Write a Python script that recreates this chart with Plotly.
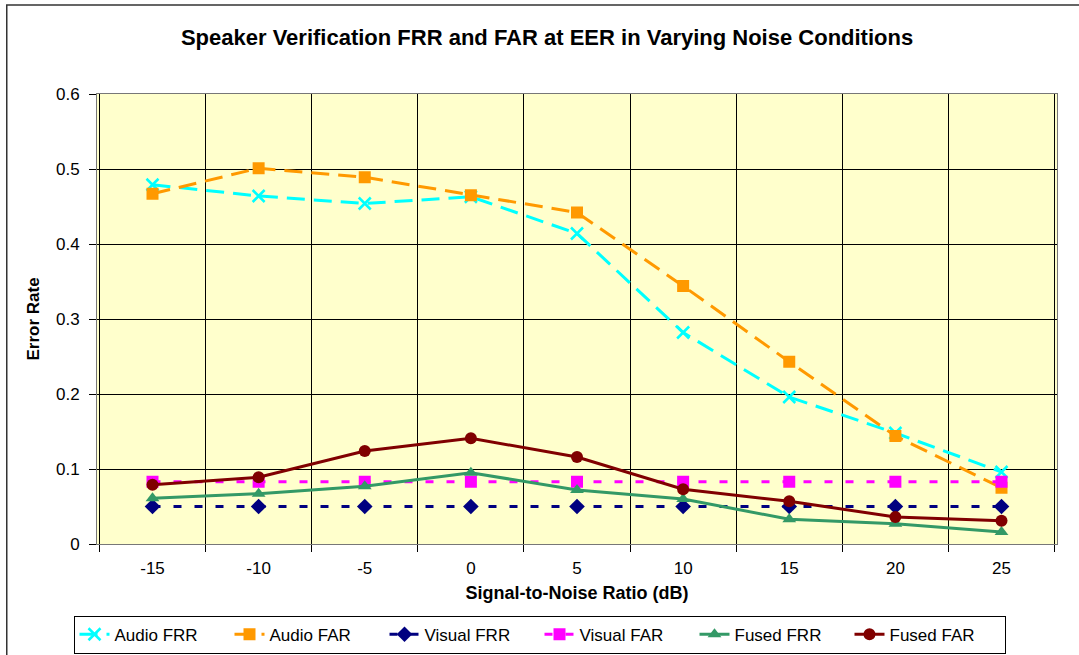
import plotly.graph_objects as go

snr = ["-15", "-10", "-5", "0", "5", "10", "15", "20", "25"]
audio_frr = [0.479, 0.464, 0.454, 0.463, 0.414, 0.282, 0.196, 0.148, 0.096]
audio_far = [0.467, 0.501, 0.489, 0.465, 0.442, 0.344, 0.243, 0.144, 0.075]
visual_frr = [0.05, 0.05, 0.05, 0.05, 0.05, 0.05, 0.05, 0.05, 0.05]
visual_far = [0.083, 0.083, 0.083, 0.083, 0.083, 0.083, 0.083, 0.083, 0.083]
fused_frr = [0.061, 0.067, 0.077, 0.095, 0.072, 0.060, 0.033, 0.027, 0.016]
fused_far = [0.079, 0.089, 0.124, 0.141, 0.116, 0.073, 0.057, 0.036, 0.031]

series = [
    ("Audio FRR", audio_frr, "#00FFFF", "18px,9px", 3, dict(symbol="x-thin", size=12, line=dict(width=2.5, color="#00FFFF"))),
    ("Audio FAR", audio_far, "#FF9900", "18px,9px", 3, dict(symbol="square", size=12)),
    ("Visual FRR", visual_frr, "#000080", "8px,13px", 3, dict(symbol="diamond", size=12)),
    ("Visual FAR", visual_far, "#FF00FF", "8px,13px", 3, dict(symbol="square", size=12)),
    ("Fused FRR", fused_frr, "#339966", "solid", 3, dict(symbol="triangle-up", size=12)),
    ("Fused FAR", fused_far, "#800000", "solid", 3, dict(symbol="circle", size=12)),
]

fig = go.Figure()
for name, vals, color, dash, w, marker in series:
    m = dict(color=color, **marker)
    fig.add_trace(go.Scatter(x=snr, y=vals, name=name, mode="lines+markers",
                             line=dict(color=color, dash=dash, width=w), marker=m))

font = "Liberation Sans, Arial, sans-serif"
fig.update_layout(
    width=1079, height=655,
    margin=dict(l=97, r=22, t=94, b=111),
    paper_bgcolor="white", plot_bgcolor="#FFFFCC",
    font=dict(family=font, size=17, color="black"),
    title=dict(text="<b>Speaker Verification FRR and FAR at EER in Varying Noise Conditions</b>",
               x=0.507, xanchor="center", y=0.9435, yanchor="middle", font=dict(size=22)),
    xaxis=dict(type="category", tickson="boundaries", showgrid=True, gridcolor="black", gridwidth=1,
               ticks="outside", ticklen=7, tickcolor="black", showline=True, linecolor="#777777",
               mirror=True, linewidth=1, ticklabelstandoff=9, automargin=False,
               title=dict(text="<b>Signal-to-Noise Ratio (dB)</b>", font=dict(size=18), standoff=8)),
    yaxis=dict(range=[0, 0.6], dtick=0.1, showgrid=True, gridcolor="black", gridwidth=1,
               ticks="outside", ticklen=7, tickcolor="black", showline=True, linecolor="#777777",
               mirror=True, linewidth=1, zeroline=False, ticklabelstandoff=6, automargin=False,
               title=dict(text="<b>Error Rate</b>", font=dict(size=17), standoff=12)),
    legend=dict(orientation="h", xref="container", yref="container",
                x=0.5, xanchor="center", y=0.06, yanchor="top",
                bordercolor="black", borderwidth=1, font=dict(size=17),
                entrywidth=110, entrywidthmode="pixels", tracegroupgap=0),
    showlegend=True,
)
fig.add_shape(type="rect", xref="paper", yref="paper", x0=-0.094, x1=1.05, y0=-0.4, y1=1.198,
              line=dict(color="#333333", width=1.5), fillcolor="rgba(0,0,0,0)", layer="below")
fig.write_html("out.html", config={"displayModeBar": False},
               post_script="document.body.style.margin='0px';")
